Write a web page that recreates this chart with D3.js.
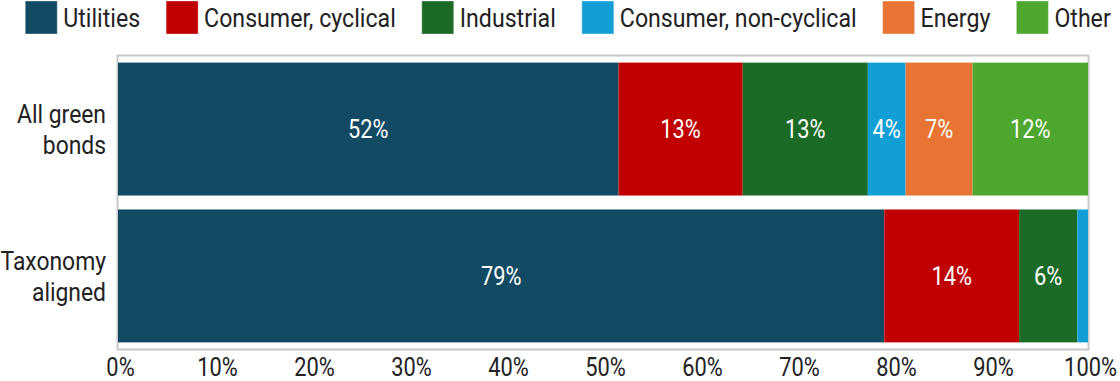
<!DOCTYPE html>
<html><head><meta charset="utf-8">
<script src="https://cdn.jsdelivr.net/npm/d3@7"></script>
<style>
html,body{margin:0;padding:0;background:#fff;}
svg text{font-family:"Roboto","DejaVu Sans",sans-serif;}
</style></head>
<body>
<svg id="chart" width="1120" height="381"></svg>
<script>
const categories = ["All green\nbonds", "Taxonomy\naligned"];
const sectors = ["Utilities", "Consumer, cyclical", "Industrial", "Consumer, non-cyclical", "Energy", "Other"];
const colors = ["#134a63", "#c00000", "#1b6b26", "#119fd6", "#e87433", "#4ea72e"];
const allGreen = [51.6, 12.8, 12.9, 3.9, 6.9, 11.9];
const taxonomy = [79.0, 13.9, 6.0, 1.1, 0, 0];
const xTicks = [0, 10, 20, 30, 40, 50, 60, 70, 80, 90, 100];

(function() {
const SX = 0.84, SXL = 0.89, SXY = 0.88, FS = 26;
const seriesByCat = [allGreen, taxonomy];
const rows = categories.map((c, i) => {
  const o = {cat: c};
  sectors.forEach((s, j) => o[s] = seriesByCat[i][j]);
  return o;
});
const stack = d3.stack().keys(sectors)(rows);

const svg = d3.select("#chart");
const pL = 118, pR = 1088, pT = 56, pB = 349;
const x = d3.scaleLinear().domain([0, 100]).range([pL, pR]);
const y = d3.scaleBand().domain(categories).range([pT, pB]).paddingInner(0.095).paddingOuter(0.045);
const color = d3.scaleOrdinal().domain(sectors).range(colors);
const txt = "#222";

svg.append("rect").attr("x", pL - 0.5).attr("y", pT - 0.5)
  .attr("width", pR - pL + 1).attr("height", pB - pT + 1)
  .attr("fill", "none").attr("stroke", "#c8c8c8").attr("stroke-width", 2);

const g = svg.append("g");
stack.forEach(layer => {
  g.selectAll(null).data(layer).enter().append("rect")
    .attr("x", d => x(d[0])).attr("width", d => x(d[1]) - x(d[0]))
    .attr("y", d => y(d.data.cat)).attr("height", y.bandwidth())
    .attr("fill", color(layer.key));
  g.selectAll(null).data(layer.filter(d => d[1] - d[0] >= 2.5)).enter().append("g")
    .attr("transform", d => `translate(${(x(d[0]) + x(d[1])) / 2},${y(d.data.cat) + y.bandwidth() / 2})`)
    .append("text")
    .attr("transform", `scale(${SX},1)`)
    .attr("dy", "0.36em").attr("text-anchor", "middle")
    .attr("fill", "#fff").attr("font-size", FS)
    .text(d => Math.round(d[1] - d[0]) + "%");
});

const xAxis = d3.axisBottom(x).tickValues(xTicks).tickFormat(d => d + "%").tickSize(0).tickPadding(0);
const ax = svg.append("g").attr("transform", `translate(0,${pB})`).call(xAxis);
ax.attr("font-family", null).attr("font-size", null);
ax.select(".domain").remove();
ax.selectAll("text").attr("font-size", FS).attr("fill", txt)
  .attr("y", 0).attr("dy", 0).attr("transform", `translate(2,27) scale(${SX},1)`);

const yAxis = d3.axisLeft(y).tickSize(0).tickFormat(() => "");
const ay = svg.append("g").attr("transform", `translate(${pL},0)`).call(yAxis);
ay.attr("font-family", null).attr("font-size", null);
ay.select(".domain").remove();
ay.selectAll(".tick text").remove();
ay.selectAll(".tick").append("text")
  .attr("text-anchor", "end").attr("fill", txt).attr("font-size", FS)
  .attr("transform", `translate(-12,0) scale(${SXY},1)`)
  .each(function(d) {
    const lines = d.split("\n");
    const t = d3.select(this);
    lines.forEach((l, i) => t.append("tspan").attr("x", 0)
      .attr("y", (i - (lines.length - 1) / 2) * 31).attr("dy", "0.36em").text(l));
  });

const leg = svg.append("g");
const items = leg.selectAll("g").data(sectors).enter().append("g");
items.append("rect").attr("width", 32).attr("height", 33).attr("y", 1)
  .attr("fill", d => color(d)).attr("stroke", "rgba(255,255,255,0.35)").attr("stroke-width", 1);
items.append("text").attr("transform", `translate(38,27) scale(${SXL},1)`)
  .attr("fill", txt).attr("font-size", FS).text(d => d);
let cx = 0;
const gap = 26;
items.each(function() {
  const w = 38 + this.querySelector("text").getComputedTextLength() * SXL;
  d3.select(this).attr("transform", `translate(${cx},0)`);
  cx += w + gap;
});
const total = cx - gap;
leg.attr("transform", `translate(${568 - total / 2},0)`);
})();
</script>
</body></html>
